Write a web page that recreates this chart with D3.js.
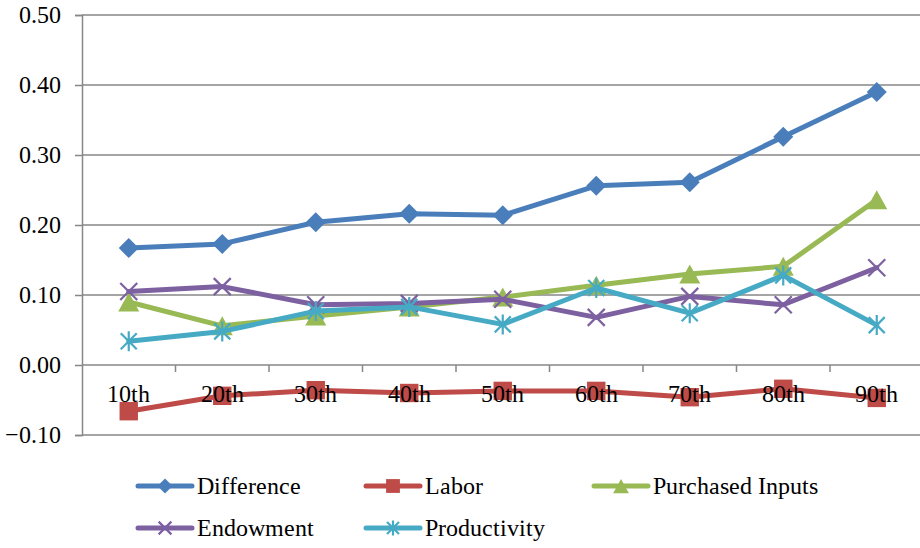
<!DOCTYPE html>
<html><head><meta charset="utf-8">
<script src="https://cdn.jsdelivr.net/npm/d3@7"></script>
<style>
@font-face{font-family:"ChartSerif";src:local("Liberation Serif"),local("LiberationSerif"),local("LiberationSerif-Regular"),local("Tinos"),local("Times New Roman");}
</style>
</head>
<body style="margin:0">
<svg id="c" width="920" height="548"></svg>
<script>
const categories = ["10th","20th","30th","40th","50th","60th","70th","80th","90th"];
const seriesNames = ["Difference","Labor","Purchased Inputs","Endowment","Productivity"];
const difference = [0.167,0.173,0.204,0.216,0.214,0.256,0.261,0.326,0.390];
const labor = [-0.066,-0.044,-0.036,-0.040,-0.037,-0.037,-0.046,-0.034,-0.047];
const purchasedInputs = [0.090,0.056,0.070,0.083,0.097,0.114,0.130,0.141,0.236];
const endowment = [0.105,0.112,0.086,0.088,0.094,0.068,0.098,0.086,0.139];
const productivity = [0.034,0.048,0.077,0.083,0.058,0.110,0.074,0.128,0.057];
const yTicks = [-0.10,0.00,0.10,0.20,0.30,0.40,0.50];

const colors = ["#4A7EBB","#BE4B48","#98B954","#7D60A0","#46AAC5"];
const markers = ["diamond","square","triangle","x","star"];
const values = [difference, labor, purchasedInputs, endowment, productivity];

const svg = d3.select("#c");
const pLeft = 82, pRight = 923.5, pTop = 15, pBottom = 435;
const x = d3.scaleBand().domain(categories).range([pLeft, pRight]);
const y = d3.scaleLinear().domain([-0.1, 0.5]).range([pBottom, pTop]);
const gridColor = "#878787";
const FF = "ChartSerif, 'Liberation Serif', Tinos, 'Times New Roman', serif";
const FS = "23.5px";
const fmt = d3.format(".2f");

svg.append("g").selectAll("line").data(yTicks).join("line")
  .attr("x1", pLeft).attr("x2", 920)
  .attr("y1", d => y(d)).attr("y2", d => y(d))
  .attr("stroke", gridColor).attr("stroke-width", 1.5);

const yAxis = d3.axisLeft(y).tickValues(yTicks).tickFormat(() => "").tickSize(7);
const yg = svg.append("g").attr("transform", `translate(${pLeft},0)`).call(yAxis);
yg.select(".domain").attr("stroke", gridColor).attr("stroke-width", 1.5);
yg.selectAll(".tick line").attr("stroke", gridColor).attr("stroke-width", 1.5);
yg.selectAll(".tick text").remove();

yTicks.forEach(t => {
  svg.append("text").attr("x", pLeft - 21).attr("y", y(t)).attr("dy", "0.32em")
    .attr("text-anchor", "end")
    .style("font-family", FF).style("font-size", FS).attr("fill", "#000").text(fmt(t));
});

svg.append("g").selectAll("line").data(categories.slice(1)).join("line")
  .attr("x1", d => x(d)).attr("x2", d => x(d))
  .attr("y1", y(0)).attr("y2", y(0) + 7)
  .attr("stroke", gridColor).attr("stroke-width", 1.5);

function markerPath(type, s) {
  const p = d3.path();
  if (type === "diamond") {
    p.moveTo(0,-s); p.lineTo(s,0); p.lineTo(0,s); p.lineTo(-s,0); p.closePath();
  } else if (type === "square") {
    const h = s*0.92; p.rect(-h,-h,2*h,2*h);
  } else if (type === "triangle") {
    p.moveTo(0,-s*0.95); p.lineTo(s*1.05,s*0.95); p.lineTo(-s*1.05,s*0.95); p.closePath();
  } else if (type === "x") {
    const h = s*0.85;
    p.moveTo(-h,-h); p.lineTo(h,h); p.moveTo(h,-h); p.lineTo(-h,h);
  } else if (type === "star") {
    const h = s*0.8;
    p.moveTo(-h,-h); p.lineTo(h,h); p.moveTo(h,-h); p.lineTo(-h,h);
    p.moveTo(0,-s); p.lineTo(0,s);
  }
  return p.toString();
}
function drawMarker(sel, type, color, s) {
  const stroked = (type === "x" || type === "star");
  sel.attr("d", markerPath(type, s))
    .attr("fill", stroked ? "none" : color)
    .attr("stroke", stroked ? color : "none")
    .attr("stroke-width", stroked ? 2.2 : 0);
}

const cx = c => x(c) + x.bandwidth()/2;
const line = d3.line().x((d,i) => cx(categories[i])).y(d => y(d));

values.forEach((vals, si) => {
  const g = svg.append("g");
  g.append("path").datum(vals).attr("d", line)
    .attr("fill", "none").attr("stroke", colors[si]).attr("stroke-width", 5)
    .attr("stroke-linejoin", "round").attr("stroke-linecap", "round");
  g.selectAll("path.m").data(vals).join("path").attr("class","m")
    .attr("transform", (d,i) => `translate(${cx(categories[i])},${y(d)})`)
    .call(sel => drawMarker(sel, markers[si], colors[si], 10));
});

categories.forEach(c => {
  svg.append("text").attr("x", cx(c)).attr("y", y(0) + 37)
    .attr("text-anchor", "middle")
    .style("font-family", FF).style("font-size", FS).attr("fill", "#000").text(c);
});

const legPos = [[138,486],[366,486],[594,486],[138,528],[366,528]];
seriesNames.forEach((name, i) => {
  const [lx, ly] = legPos[i];
  svg.append("line").attr("x1", lx).attr("x2", lx + 54).attr("y1", ly).attr("y2", ly)
    .attr("stroke", colors[i]).attr("stroke-width", 5).attr("stroke-linecap", "round");
  svg.append("path").attr("transform", `translate(${lx+27},${ly})`)
    .call(sel => drawMarker(sel, markers[i], colors[i], 7.5));
  svg.append("text").attr("x", lx + 59).attr("y", ly).attr("dy", "0.33em")
    .style("font-family", FF).style("font-size", FS).attr("fill", "#000").text(name);
});
</script>
</body></html>
